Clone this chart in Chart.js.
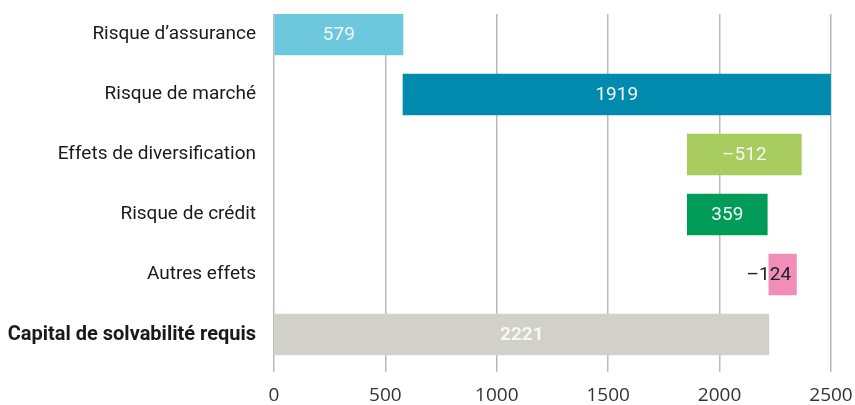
<!DOCTYPE html>
<html>
<head>
<meta charset="utf-8">
<script src="https://cdn.jsdelivr.net/npm/chart.js@4"></script>
<style>
  html, body { margin: 0; padding: 0; background: #fff; }
  #wrap { width: 855px; height: 405px; }
</style>
</head>
<body>
<div id="wrap"><canvas id="chart" width="855" height="405"></canvas></div>
<script>
// waterfall steps
var categories = ["Risque d\u2019assurance", "Risque de march\u00e9", "Effets de diversification",
    "Risque de cr\u00e9dit", "Autres effets", "Capital de solvabilit\u00e9 requis"];
var values = [579, 1919, -512, 359, -124, 2221];
var starts = [0, 579, 1855, 1855, 2221, 0];
var colors = ["#6dc8de", "#008aae", "#a8cc5e", "#009b57", "#f08dba", "#d1d1c9"];
var xTicks = [0, 500, 1000, 1500, 2000, 2500];

var points = values.map(function (v, i) {
    return { y: i, x: [starts[i], starts[i] + Math.abs(v)] };
});

function fmt(v) {
    return v < 0 ? "\u2013" + Math.abs(v) : String(v);
}

var barLabels = {
    id: "barLabels",
    afterDatasetsDraw: function (chart) {
        var ctx = chart.ctx;
        var meta = chart.getDatasetMeta(0);
        var lastIdx = values.length - 1;
        ctx.save();
        ctx.textAlign = "center";
        ctx.textBaseline = "middle";
        meta.data.forEach(function (bar, i) {
            var txt = fmt(values[i]);
            ctx.font = (i === lastIdx ? "bold" : "normal") + " 19px Roboto";
            var left = Math.min(bar.x, bar.base);
            var w = Math.abs(bar.x - bar.base);
            if (ctx.measureText(txt).width + 6 > w) {
                ctx.fillStyle = "#222";
                ctx.fillText(txt, left, bar.y + 1);
            } else {
                ctx.fillStyle = "#f4f8f8";
                ctx.fillText(txt, left + w / 2, bar.y + 1);
            }
        });
        ctx.restore();
    }
};

new Chart(document.getElementById("chart"), {
    type: "bar",
    data: {
        datasets: [{
            data: points,
            backgroundColor: colors,
            barThickness: 41,
            borderWidth: 0
        }]
    },
    plugins: [barLabels],
    options: {
        indexAxis: "y",
        responsive: false,
        animation: false,
        layout: { padding: { top: 14, right: 24, left: 0, bottom: 0 } },
        plugins: { legend: { display: false }, tooltip: { enabled: false } },
        scales: {
            x: {
                type: "linear",
                min: xTicks[0],
                max: xTicks[xTicks.length - 1],
                afterBuildTicks: function (scale) {
                    scale.ticks = xTicks.map(function (v) { return { value: v }; });
                },
                afterFit: function (scale) {
                    scale.height = 49;
                    scale.paddingLeft = 0;
                    scale.paddingRight = 0;
                },
                grid: { color: "#b9b9b9", lineWidth: 1.5, tickLength: 16 },
                border: { display: false },
                ticks: {
                    color: "#333", padding: 14,
                    font: { family: "'Open Sans'", size: 19, lineHeight: 1 },
                    callback: function (v) { return String(v); }
                }
            },
            y: {
                type: "linear",
                reverse: true,
                offset: false,
                bounds: "data",
                min: -0.3417,
                max: categories.length - 1 + 0.3583,
                afterBuildTicks: function (scale) {
                    scale.ticks = categories.map(function (c, i) { return { value: i }; });
                },
                afterFit: function (scale) {
                    scale.width = 274;
                    scale.paddingTop = 0;
                    scale.paddingBottom = 0;
                },
                grid: { display: false, drawTicks: false },
                border: { display: false },
                ticks: {
                    autoSkip: false,
                    padding: 18,
                    color: "#1a1a1a",
                    callback: function (v) {
                        return categories[v];
                    },
                    font: function (c) {
                        var last = c.tick && c.tick.value === categories.length - 1;
                        return { family: "Roboto", size: last ? 20 : 19, weight: last ? "bold" : "normal" };
                    }
                }
            }
        }
    }
});
</script>
</body>
</html>
